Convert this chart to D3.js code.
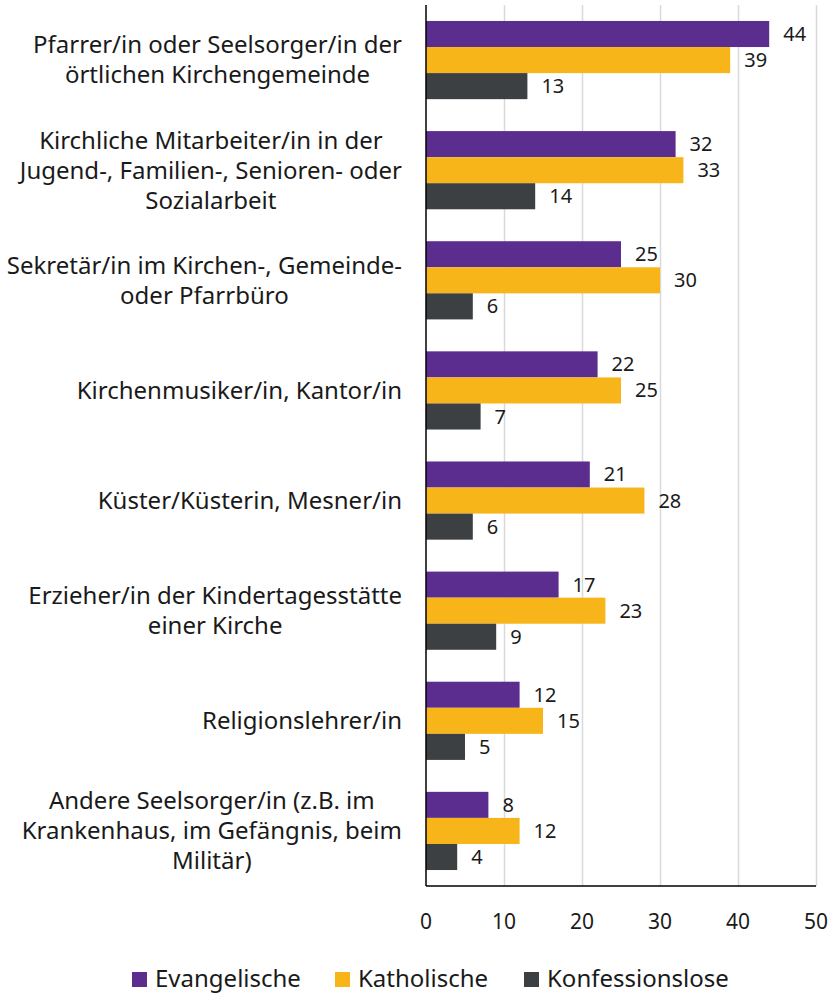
<!DOCTYPE html>
<html lang="de">
<head>
<meta charset="UTF-8">
<title>Ansprechpartner in der Kirche</title>
<style>
    body { margin: 0; background: #fff; font-family: "Noto Sans", "Open Sans", sans-serif; }
    .grid line { stroke: #d9d9d9; stroke-width: 1.5; }
    .grid path { display: none; }
    text { fill: #1a1a1a; }
</style>
</head>
<body>
<div id="chart"></div>
<script src="https://d3js.org/d3.v7.min.js"></script>
<script>
    // categories (label lines as shown in the picture)
    const categories = [
        ["Pfarrer/in oder Seelsorger/in der", "örtlichen Kirchengemeinde"],
        ["Kirchliche Mitarbeiter/in in der", "Jugend-, Familien-, Senioren- oder", "Sozialarbeit"],
        ["Sekretär/in im Kirchen-, Gemeinde-", "oder Pfarrbüro"],
        ["Kirchenmusiker/in, Kantor/in"],
        ["Küster/Küsterin, Mesner/in"],
        ["Erzieher/in der Kindertagesstätte", "einer Kirche"],
        ["Religionslehrer/in"],
        ["Andere Seelsorger/in (z.B. im", "Krankenhaus, im Gefängnis, beim", "Militär)"]
    ];
    const seriesNames = ["Evangelische", "Katholische", "Konfessionslose"];
    const evangelische = [44, 32, 25, 22, 21, 17, 12, 8];
    const katholische = [39, 33, 30, 25, 28, 23, 15, 12];
    const konfessionslose = [13, 14, 6, 7, 6, 9, 5, 4];
    const xTicks = [0, 10, 20, 30, 40, 50];
    const colors = ["#5b2d8e", "#f7b519", "#3d4042"];

    const series = [evangelische, katholische, konfessionslose];
    const W = 832, H = 993;
    const plot = {left: 426, right: 816, top: 5, bottom: 886};

    const svg = d3.select("#chart").append("svg")
        .attr("width", W).attr("height", H);

    const x = d3.scaleLinear().domain([0, 50]).range([plot.left, plot.right]);
    const y = d3.scaleBand().domain(d3.range(categories.length))
        .range([plot.top, plot.bottom]).paddingInner(0.29).paddingOuter(0.145);
    const ySub = d3.scaleBand().domain(d3.range(series.length))
        .range([0, y.bandwidth()]);

    // gridlines
    svg.append("g").attr("class", "grid")
        .attr("transform", `translate(0,${plot.bottom})`)
        .call(d3.axisBottom(x).tickValues(xTicks.slice(1)).tickSize(-(plot.bottom - plot.top)).tickFormat(""));

    // bars
    series.forEach((vals, si) => {
        const g = svg.append("g");
        g.selectAll("rect").data(vals).enter().append("rect")
            .attr("x", x(0))
            .attr("y", (d, i) => y(i) + ySub(si))
            .attr("width", d => x(d) - x(0))
            .attr("height", ySub.bandwidth())
            .attr("fill", colors[si]);
        g.selectAll("text").data(vals).enter().append("text")
            .attr("x", d => x(d) + 14)
            .attr("y", (d, i) => y(i) + ySub(si) + ySub.bandwidth() / 2)
            .attr("dy", "0.35em")
            .attr("font-size", 20)
            .text(d => d);
    });

    // axes lines
    svg.append("line").attr("x1", plot.left).attr("x2", plot.left).attr("y1", plot.top).attr("y2", plot.bottom)
        .attr("stroke", "#000").attr("stroke-width", 1.5);
    svg.append("line").attr("x1", plot.left).attr("x2", plot.right).attr("y1", plot.bottom).attr("y2", plot.bottom)
        .attr("stroke", "#000").attr("stroke-width", 1.5);

    // tick labels
    svg.append("g").selectAll("text").data(xTicks).enter().append("text")
        .attr("x", d => x(d)).attr("y", 922).attr("dy", "0.35em")
        .attr("text-anchor", "middle").attr("font-size", 21)
        .text(d => d);

    // category labels: lines centred on the widest line, block right aligned
    const lineH = 30;
    categories.forEach((lines, i) => {
        const g = svg.append("g");
        const cy = y(i) + y.bandwidth() / 2;
        const texts = lines.map((l, k) => g.append("text")
            .attr("y", cy + (k - (lines.length - 1) / 2) * lineH)
            .attr("dy", "0.35em")
            .attr("font-size", 24)
            .attr("text-anchor", "middle")
            .text(l));
        const wMax = d3.max(texts, t => t.node().getComputedTextLength());
        texts.forEach(t => t.attr("x", 402 - wMax / 2));
    });

    // legend
    const legendX = [132, 335, 524];
    const leg = svg.append("g");
    seriesNames.forEach((n, i) => {
        leg.append("rect").attr("x", legendX[i]).attr("y", 972).attr("width", 15).attr("height", 15)
            .attr("fill", colors[i]);
        leg.append("text").attr("x", legendX[i] + 23).attr("y", 979).attr("dy", "0.35em")
            .attr("font-size", 24).text(n);
    });
</script>
</body>
</html>
